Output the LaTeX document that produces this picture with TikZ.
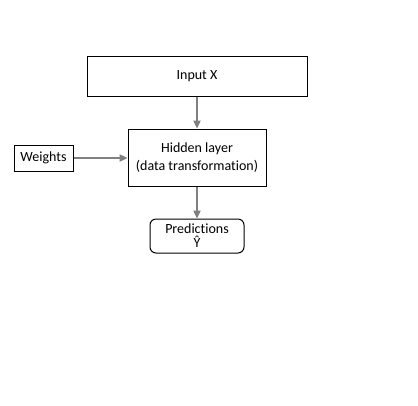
\documentclass[tikz,border=0pt]{standalone}
\usepackage{fontspec}
\setmainfont{Carlito}[Ligatures=NoCommon]
\usetikzlibrary{arrows.meta}
\begin{document}
\begin{tikzpicture}[x=0.75pt,y=-0.75pt,
  box/.style={draw=black,line width=0.75pt,inner sep=0pt,font=\fontsize{10.5}{13.5}\selectfont,align=center},
  conn/.style={draw={rgb,255:red,128;green,128;blue,128},line width=0.9pt,-{Triangle[length=6pt,width=5.5pt]}}]
\useasboundingbox (0,0) rectangle (418,405);
\node[box,minimum width=165pt,minimum height=30pt] (input) at (197,76) {Input X};
\node[box,minimum width=103.5pt,minimum height=42.75pt] (hidden) at (197,157.5) {Hidden layer\\(data transformation)};
\node[box,minimum width=44.25pt,minimum height=19.5pt] (weights) at (43.5,158) {Weights};
\node[box,rounded corners=4.5pt,minimum width=70.5pt,minimum height=25.5pt,font=\fontsize{10.5}{10.5}\selectfont] (pred) at (197,236) {Predictions\\Ŷ};
\draw[conn] (input) -- (hidden);
\draw[conn] (weights) -- (weights -| hidden.west);
\draw[conn] (hidden) -- (pred);
\end{tikzpicture}
\end{document}
